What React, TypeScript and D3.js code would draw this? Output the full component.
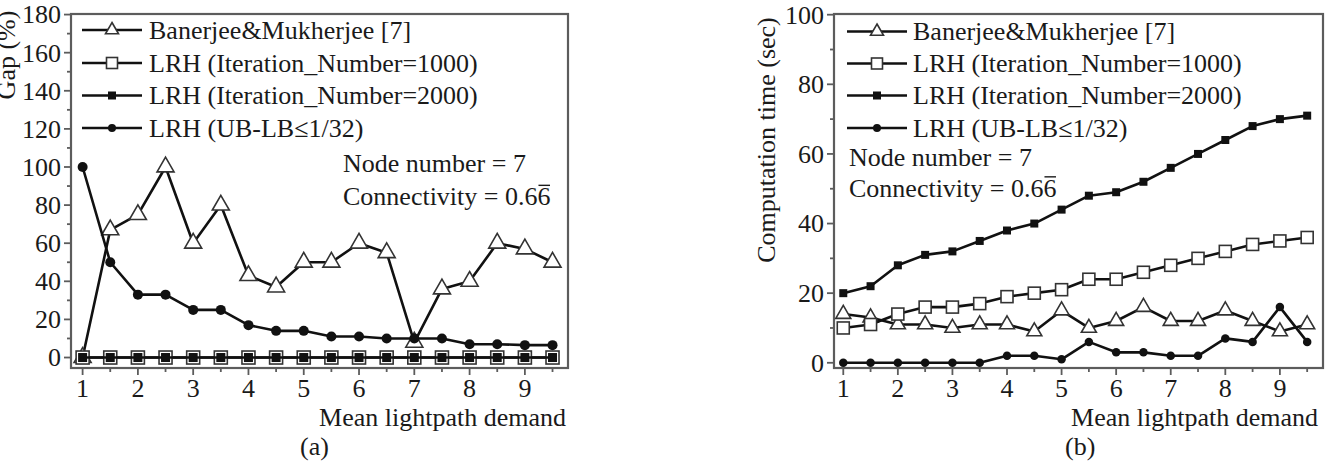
import React from 'react';
import * as d3 from 'd3';

const demand = [1, 1.5, 2, 2.5, 3, 3.5, 4, 4.5, 5, 5.5, 6, 6.5, 7, 7.5, 8, 8.5, 9, 9.5];
const demandTicks = [1, 2, 3, 4, 5, 6, 7, 8, 9];
const demandMinor = [1.5, 2.5, 3.5, 4.5, 5.5, 6.5, 7.5, 8.5, 9.5];

const seriesNames = [
  'Banerjee&Mukherjee [7]',
  'LRH (Iteration_Number=1000)',
  'LRH (Iteration_Number=2000)',
  'LRH (UB-LB≤1/32)',
];

// (a) gap in percent
const gapBanerjee = [0, 67, 75, 100, 60, 80, 43, 37, 50, 50, 60, 55, 8, 36, 40, 60, 57, 50];
const gapIter1000 = [0, 0, 0, 0, 0, 0, 0, 0, 0, 0, 0, 0, 0, 0, 0, 0, 0, 0];
const gapIter2000 = [0, 0, 0, 0, 0, 0, 0, 0, 0, 0, 0, 0, 0, 0, 0, 0, 0, 0];
const gapUbLb = [100, 50, 33, 33, 25, 25, 17, 14, 14, 11, 11, 10, 10, 10, 7, 7, 6.5, 6.5];
const gapTicks = [0, 20, 40, 60, 80, 100, 120, 140, 160, 180];
const gapMinor = [10, 30, 50, 70, 90, 110, 130, 150, 170];

// (b) computation time in seconds
const timeBanerjee = [14, 13, 11, 11, 10, 11, 11, 9, 15, 10, 12, 16, 12, 12, 15, 12, 9, 11];
const timeIter1000 = [10, 11, 14, 16, 16, 17, 19, 20, 21, 24, 24, 26, 28, 30, 32, 34, 35, 36];
const timeIter2000 = [20, 22, 28, 31, 32, 35, 38, 40, 44, 48, 49, 52, 56, 60, 64, 68, 70, 71];
const timeUbLb = [0, 0, 0, 0, 0, 0, 2, 2, 1, 6, 3, 3, 2, 2, 7, 6, 16, 6];
const timeTicks = [0, 20, 40, 60, 80, 100];
const timeMinor = [10, 30, 50, 70, 90];

type Kind = 'tri' | 'osq' | 'fsq' | 'dot';
const kinds: Kind[] = ['tri', 'osq', 'fsq', 'dot'];

const FONT = '"Liberation Serif", "Times New Roman", serif';
const INK = '#1a1a1a';
const FRAME = '#5c5c5c';
const FS = 26;

interface PanelProps {
  series: number[][];
  frame: { left: number; right: number; top: number; bottom: number };
  xDomain: [number, number];
  yDomain: [number, number];
  yTicks: number[];
  yMinor: number[];
  yTitle: string;
  yTitlePos: [number, number];
  legendPos: { lineX0: number; lineX1: number; textX: number; rows: number[] };
  notePos: { x: number; y0: number; y1: number };
  xTitleEnd: [number, number];
  tag: string;
  tagPos: [number, number];
  sizes: Record<Kind, number>;
}

function drawMarker(
  g: d3.Selection<SVGGElement, unknown, null, undefined>,
  kind: Kind,
  x: number,
  y: number,
  s: number
) {
  if (kind === 'tri') {
    const area = (Math.sqrt(3) / 4) * s * s;
    g.append('path')
      .attr('d', d3.symbol().type(d3.symbolTriangle).size(area)()!)
      .attr('transform', `translate(${x},${y})`)
      .attr('fill', '#fff')
      .attr('stroke', '#333')
      .attr('stroke-width', 1.6);
  } else if (kind === 'osq') {
    g.append('rect')
      .attr('x', x - s / 2)
      .attr('y', y - s / 2)
      .attr('width', s)
      .attr('height', s)
      .attr('fill', '#fff')
      .attr('stroke', '#333')
      .attr('stroke-width', 1.6);
  } else if (kind === 'fsq') {
    g.append('rect')
      .attr('x', x - s / 2)
      .attr('y', y - s / 2)
      .attr('width', s)
      .attr('height', s)
      .attr('fill', '#111');
  } else {
    g.append('circle').attr('cx', x).attr('cy', y).attr('r', s / 2).attr('fill', '#111');
  }
}

const Panel: React.FC<PanelProps> = (p) => {
  const ref = React.useRef<SVGGElement | null>(null);

  React.useEffect(() => {
    const root = d3.select(ref.current!);
    root.selectAll('*').remove();
    const { left, right, top, bottom } = p.frame;

    const x = d3.scaleLinear().domain(p.xDomain).range([left, right]);
    const y = d3.scaleLinear().domain(p.yDomain).range([bottom, top]);

    // frame
    root
      .append('rect')
      .attr('x', left)
      .attr('y', top)
      .attr('width', right - left)
      .attr('height', bottom - top)
      .attr('fill', 'none')
      .attr('stroke', FRAME)
      .attr('stroke-width', 2.2);

    // ticks, outward on left and bottom only
    const ticks = root.append('g').attr('stroke', FRAME).attr('stroke-width', 1.8);
    p.yTicks.forEach((t) => {
      ticks.append('line').attr('x1', left - 7).attr('x2', left).attr('y1', y(t)).attr('y2', y(t));
    });
    p.yMinor.forEach((t) => {
      ticks.append('line').attr('x1', left - 4).attr('x2', left).attr('y1', y(t)).attr('y2', y(t));
    });
    demandTicks.forEach((t) => {
      ticks.append('line').attr('x1', x(t)).attr('x2', x(t)).attr('y1', bottom).attr('y2', bottom + 7);
    });
    demandMinor.forEach((t) => {
      ticks.append('line').attr('x1', x(t)).attr('x2', x(t)).attr('y1', bottom).attr('y2', bottom + 4);
    });

    const txt = root.append('g').attr('font-family', FONT).attr('fill', INK).attr('font-size', FS);

    p.yTicks.forEach((t) => {
      txt
        .append('text')
        .attr('x', left - 10)
        .attr('y', y(t))
        .attr('dy', '0.34em')
        .attr('text-anchor', 'end')
        .text(t);
    });
    demandTicks.forEach((t) => {
      txt
        .append('text')
        .attr('x', x(t))
        .attr('y', bottom + 29)
        .attr('text-anchor', 'middle')
        .text(t);
    });

    txt
      .append('text')
      .attr('transform', `translate(${p.yTitlePos[0]},${p.yTitlePos[1]}) rotate(-90)`)
      .attr('text-anchor', 'middle')
      .text(p.yTitle);

    txt
      .append('text')
      .attr('x', p.xTitleEnd[0])
      .attr('y', p.xTitleEnd[1])
      .attr('dy', '0.34em')
      .attr('text-anchor', 'end')
      .text('Mean lightpath demand');

    txt
      .append('text')
      .attr('x', p.tagPos[0])
      .attr('y', p.tagPos[1])
      .attr('dy', '0.34em')
      .text(p.tag);

    // series lines and markers
    const line = d3
      .line<number>()
      .x((_, i) => x(demand[i]))
      .y((d) => y(d));

    p.series.forEach((vals, si) => {
      const sg = root.append('g');
      sg.append('path')
        .attr('d', line(vals)!)
        .attr('fill', 'none')
        .attr('stroke', '#111')
        .attr('stroke-width', 2.6)
        .attr('stroke-linejoin', 'round');
      vals.forEach((v, i) => drawMarker(sg, kinds[si], x(demand[i]), y(v), p.sizes[kinds[si]]));
    });

    // legend
    const lg = root.append('g');
    const lp = p.legendPos;
    const legendSizes: Record<Kind, number> = { tri: 13, osq: 11, fsq: 8, dot: 8 };
    seriesNames.forEach((name, i) => {
      const ry = lp.rows[i];
      lg.append('line')
        .attr('x1', lp.lineX0)
        .attr('x2', lp.lineX1)
        .attr('y1', ry)
        .attr('y2', ry)
        .attr('stroke', '#111')
        .attr('stroke-width', 2.6);
      drawMarker(lg, kinds[i], (lp.lineX0 + lp.lineX1) / 2, ry, legendSizes[kinds[i]]);
      lg.append('text')
        .attr('x', lp.textX)
        .attr('y', ry)
        .attr('dy', '0.34em')
        .attr('font-family', FONT)
        .attr('font-size', FS)
        .attr('fill', INK)
        .text(name);
    });

    // network annotation, repeating digit marked with a bar
    const np = p.notePos;
    txt.append('text').attr('x', np.x).attr('y', np.y0).attr('dy', '0.34em').text('Node number = 7');
    const conn = txt
      .append('text')
      .attr('x', np.x)
      .attr('y', np.y1)
      .attr('dy', '0.34em')
      .text('Connectivity = 0.66');
    const node = conn.node() as SVGTextElement;
    const n = node.getNumberOfChars();
    const total = node.getComputedTextLength();
    const last = node.getSubStringLength(n - 1, 1);
    const baseline = np.y1 + 0.34 * FS;
    root
      .append('line')
      .attr('x1', np.x + total - last + 1)
      .attr('x2', np.x + total - 0.5)
      .attr('y1', baseline - 20)
      .attr('y2', baseline - 20)
      .attr('stroke', INK)
      .attr('stroke-width', 1.4);
  }, [p]);

  return <g ref={ref} />;
};

const App: React.FC = () => (
  <svg
    width={1332}
    height={468}
    style={{ position: 'absolute', left: 0, top: 0, background: '#fff' }}
  >
    <Panel
      series={[gapBanerjee, gapIter1000, gapIter2000, gapUbLb]}
      frame={{ left: 71, right: 568, top: 14, bottom: 368 }}
      xDomain={[0.79, 9.78]}
      yDomain={[-5.5, 180.3]}
      yTicks={gapTicks}
      yMinor={gapMinor}
      yTitle="Gap (%)"
      yTitlePos={[15, 55]}
      legendPos={{ lineX0: 82, lineX1: 142, textX: 149, rows: [30, 63, 95.5, 128] }}
      notePos={{ x: 343, y0: 163, y1: 196.5 }}
      xTitleEnd={[566, 417]}
      tag="(a)"
      tagPos={[300, 446]}
      sizes={{ tri: 17, osq: 13, fsq: 9, dot: 10 }}
    />
    <Panel
      series={[timeBanerjee, timeIter1000, timeIter2000, timeUbLb]}
      frame={{ left: 834, right: 1323, top: 14, bottom: 368 }}
      xDomain={[0.83, 9.79]}
      yDomain={[-1.5, 100.2]}
      yTicks={timeTicks}
      yMinor={timeMinor}
      yTitle="Computation time (sec)"
      yTitlePos={[775, 140]}
      legendPos={{ lineX0: 847, lineX1: 907, textX: 913, rows: [31.5, 63.5, 95.5, 128] }}
      notePos={{ x: 849, y0: 157, y1: 188 }}
      xTitleEnd={[1318, 417]}
      tag="(b)"
      tagPos={[1065, 446]}
      sizes={{ tri: 15, osq: 12, fsq: 8, dot: 8.5 }}
    />
  </svg>
);

export default App;
